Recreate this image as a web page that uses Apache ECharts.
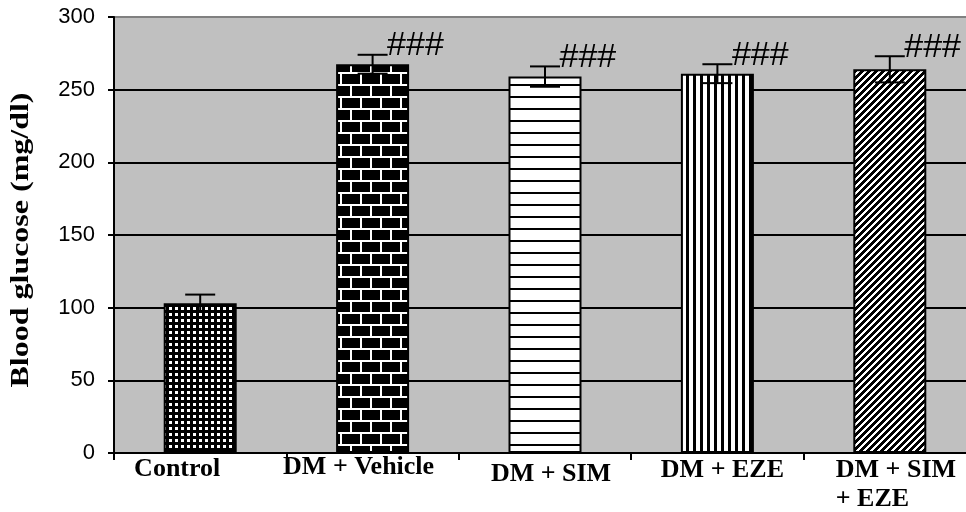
<!DOCTYPE html>
<html>
<head>
<meta charset="utf-8">
<script src="https://cdn.jsdelivr.net/npm/echarts@6/dist/echarts.min.js"></script>
<style>
  html, body { margin: 0; padding: 0; background: #fff; }
  #chart { width: 966px; height: 512px; }
</style>
</head>
<body>
<div id="chart"></div>
<script>
// Blood glucose by treatment group (mean ± SEM)
const groups = ['Control', 'DM + Vehicle', 'DM + SIM', 'DM + EZE', 'DM + SIM\n+ EZE'];
const glucose = [103, 267.5, 259, 261, 264];
const sem = [6, 6.5, 7, 6.5, 9];
const marks = ['', '###', '###', '###', '###'];
const yTicks = [0, 50, 100, 150, 200, 250, 300];

// ---- fill patterns drawn on small canvases ----
function tile(w, h, paint) {
  const c = document.createElement('canvas');
  c.width = w; c.height = h;
  const ctx = c.getContext('2d');
  paint(ctx, w, h);
  return { image: c, repeat: 'repeat' };
}
const dotted = tile(6, 6, (g, w, h) => {
  g.fillStyle = '#000'; g.fillRect(0, 0, w, h);
  g.fillStyle = '#fff'; g.fillRect(1, 1, 3, 3);
});
const bricks = tile(40, 24, (g, w, h) => {
  g.fillStyle = '#000'; g.fillRect(0, 0, w, h);
  g.fillStyle = '#fff';
  g.fillRect(0, 0, w, 2);
  g.fillRect(0, 12, w, 2);
  g.fillRect(0, 0, 2, 12); g.fillRect(20, 0, 2, 12);
  g.fillRect(10, 12, 2, 12); g.fillRect(30, 12, 2, 12);
});
const hLines = tile(4, 12, (g, w, h) => {
  g.fillStyle = '#fff'; g.fillRect(0, 0, w, h);
  g.fillStyle = '#000'; g.fillRect(0, 0, w, 2);
});
const vLines = tile(7, 4, (g, w, h) => {
  g.fillStyle = '#fff'; g.fillRect(0, 0, w, h);
  g.fillStyle = '#000'; g.fillRect(0, 0, 3, h);
});
const diag = tile(7, 7, (g, w, h) => {
  const img = g.createImageData(w, h);
  for (let y = 0; y < h; y++) for (let x = 0; x < w; x++) {
    const k = (y * w + x) * 4;
    const v = ((x + y) % 7) < 4 ? 0 : 255;
    img.data[k] = img.data[k + 1] = img.data[k + 2] = v; img.data[k + 3] = 255;
  }
  g.putImageData(img, 0, 0);
});
const fills = [dotted, bricks, hLines, vLines, diag];

// per-label nudges for the category captions [top, right, bottom, left]
const captionPad = [[2, 46, 0, 0], [0, 28, 0, 0], [7, 0, 0, 12], [3, 0, 0, 10], [3, 0, 0, 4]];

const serif = '"Liberation Serif", "Times New Roman", serif';
const sans = '"Liberation Sans", Arial, sans-serif';

const chart = echarts.init(document.getElementById('chart'), null, { renderer: 'canvas' });
chart.setOption({
  animation: false,
  grid: {
    left: 114, top: 17, right: -10, bottom: 59,
    outerBoundsMode: 'none', containLabel: false,
    show: true, backgroundColor: '#c0c0c0', borderWidth: 0
  },
  xAxis: {
    type: 'category',
    data: groups.map((g, i) => ({ value: g, textStyle: { padding: captionPad[i] } })),
    axisLine: { lineStyle: { color: '#000', width: 2 } },
    axisTick: { show: true, length: 7, lineStyle: { color: '#000', width: 2 } },
    axisLabel: {
      margin: 0,
      interval: 0,
      hideOverlap: false,
      color: '#000',
      fontFamily: serif, fontWeight: 'bold', fontSize: 26, lineHeight: 29,
      formatter: (v) => v.indexOf('\n') >= 0 ? v.split('\n').map(s => '{l|' + s + '}').join('\n') : v,
      rich: { l: { width: 112, align: 'left', fontFamily: serif, fontWeight: 'bold', fontSize: 26, lineHeight: 29, color: '#000' } }
    }
  },
  yAxis: {
    type: 'value',
    min: yTicks[0], max: yTicks[yTicks.length - 1], interval: yTicks[1] - yTicks[0],
    axisLine: { show: true, lineStyle: { color: '#000', width: 2 } },
    axisTick: { show: true, length: 6, lineStyle: { color: '#000', width: 2 } },
    axisLabel: { margin: 19, color: '#000', fontFamily: sans, fontSize: 22 },
    splitLine: { show: true, lineStyle: { width: 2, color: ['#000', '#000', '#000', '#000', '#000', '#000', '#808080'] } }
  },
  graphic: [{
    type: 'text', x: 21, y: 240, rotation: Math.PI / 2, scaleX: 1.23,
    style: { text: 'Blood glucose (mg/dl)', font: 'bold 26px ' + serif, fill: '#000', align: 'center', verticalAlign: 'middle' }
  }],
  series: [
    {
      type: 'bar',
      barWidth: 73,
      data: glucose.map((v, i) => ({ value: v, itemStyle: { color: fills[i] } })),
      itemStyle: { borderColor: '#000', borderWidth: 2 },
      z: 2
    },
    {
      type: 'custom',
      z: 5,
      data: glucose.map((v, i) => [i, v - sem[i], v + sem[i]]),
      renderItem: (params, api) => {
        const i = params.dataIndex;
        const lo = api.coord([api.value(0), api.value(1)]);
        const hi = api.coord([api.value(0), api.value(2)]);
        const x = hi[0], half = 15;
        const st = { stroke: '#000', lineWidth: 2 };
        const kids = [
          { type: 'line', shape: { x1: x, y1: lo[1], x2: x, y2: hi[1] }, style: st },
          { type: 'line', shape: { x1: x - half, y1: hi[1], x2: x + half, y2: hi[1] }, style: st },
          { type: 'line', shape: { x1: x - half, y1: lo[1], x2: x + half, y2: lo[1] }, style: st }
        ];
        if (marks[i]) {
          kids.push({ type: 'text', x: x + 14, y: hi[1] + 8,
            style: { text: marks[i], font: 'italic 34px ' + sans, fill: '#000', align: 'left', verticalAlign: 'bottom' } });
        }
        return { type: 'group', children: kids };
      }
    }
  ]
});
</script>
</body>
</html>
